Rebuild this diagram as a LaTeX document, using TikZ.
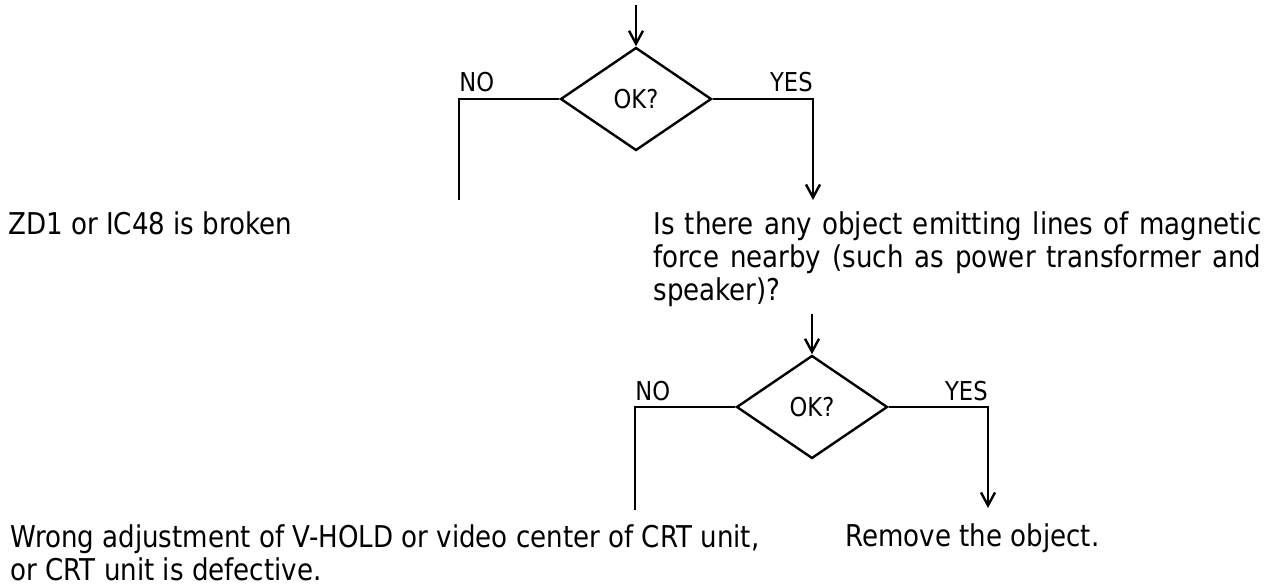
\documentclass[tikz,border=0pt]{standalone}
\usepackage{fontspec}
\setmainfont{DejaVu Sans}[FakeStretch=0.87]
\usetikzlibrary{shapes.geometric, arrows.meta}

\tikzset{
	romb/.style={draw, diamond, line width=1.2pt, minimum width=75.5pt, minimum height=51.5pt, inner sep=0pt, font=\fontsize{13}{15}\selectfont},
	lbl/.style={inner sep=0pt, font=\fontsize{13}{15}\selectfont},
	txt/.style={inner sep=0pt, font=\fontsize{15}{16.5}\selectfont},
	line/.style={line width=1.2pt},
	arr/.style={line width=1.2pt, -{Straight Barb[length=6.5pt,width=7pt]}}
}

\begin{document}
\begin{tikzpicture}[x=0.5pt, y=-0.5pt]
	\useasboundingbox (0,0) rectangle (1278,587);
	
	% Первый ромб и его выходы
	\coordinate (top1) at (636,5);
	\node[romb] (ok1) at (636,99) {OK?};
	\coordinate (no1) at (459,99);
	\coordinate (no1end) at (459,200);
	\coordinate (yes1) at (813,99);
	\coordinate (yes1end) at (813,200);
	
	\draw[arr] (top1) -- (ok1.north);
	\draw[line] (ok1.west) -- (no1) -- (no1end);
	\draw[arr] (ok1.east) -- (yes1) -- (yes1end);
	
	% Подписи ветвей
	\node[lbl, anchor=base west, yshift=3.5pt] (lno1) at (no1) {NO};
	\node[lbl, anchor=base east, yshift=3.5pt] (lyes1) at (yes1) {YES};
	
	% Тексты после первого ромба
	\node[txt, anchor=base west] (broken) at (8,235) {ZD1 or IC48 is broken};
	\node[txt, anchor=north west, text width=304pt, align=justify] (question) at (653,211)
		{Is there any object emitting lines of magnetic\linebreak force nearby (such as power transformer and\linebreak speaker)?};
	
	% Второй ромб и его выходы
	\coordinate (top2) at (812,314);
	\node[romb] (ok2) at (812,407) {OK?};
	\coordinate (no2) at (635,407);
	\coordinate (no2end) at (635,510);
	\coordinate (yes2) at (988,407);
	\coordinate (yes2end) at (988,508);
	
	\draw[arr] (top2) -- (ok2.north);
	\draw[line] (ok2.west) -- (no2) -- (no2end);
	\draw[arr] (ok2.east) -- (yes2) -- (yes2end);
	
	\node[lbl, anchor=base west, yshift=3.5pt] (lno2) at (no2) {NO};
	\node[lbl, anchor=base east, yshift=3.5pt] (lyes2) at (yes2) {YES};
	
	% Нижние тексты
	\node[txt, anchor=north west, align=left] (wrong) at (10,524)
		{Wrong adjustment of V-HOLD or video center of CRT unit,\\or CRT unit is defective.};
	\node[txt, anchor=base west] (remove) at (845,546) {Remove the object.};
\end{tikzpicture}
\end{document}
